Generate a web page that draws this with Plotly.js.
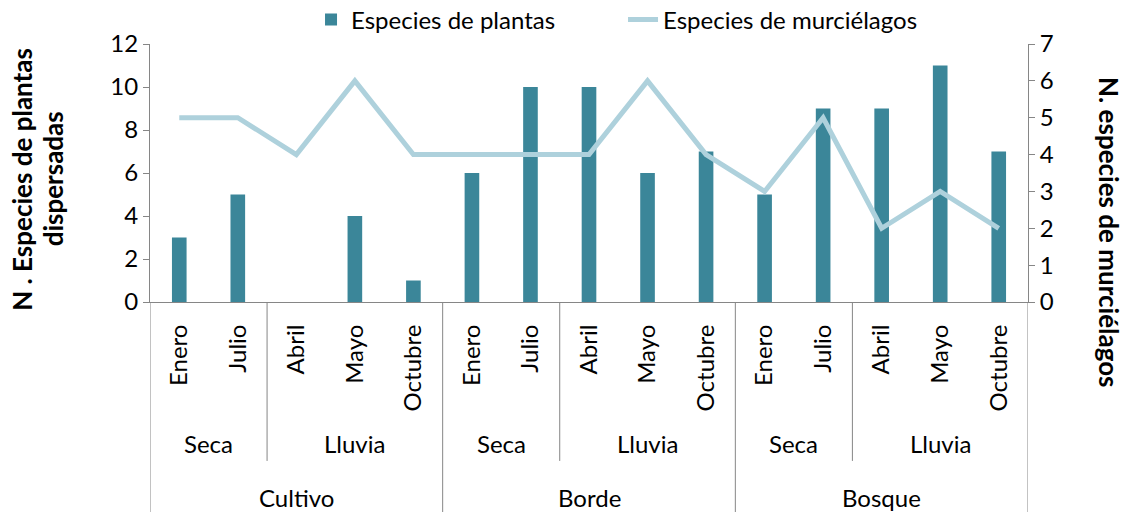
<!DOCTYPE html>
<html><head><meta charset="utf-8">
<script src="https://cdn.plot.ly/plotly-3.0.1.min.js"></script>
<style>body{margin:0;background:#fff}#chart{width:1132px;height:515px}</style>
</head><body><div id="chart"></div>
<script>
const months = ["Enero","Julio","Abril","Mayo","Octubre","Enero","Julio","Abril","Mayo","Octubre","Enero","Julio","Abril","Mayo","Octubre"];
const seasons = ["Seca","Seca","Lluvia","Lluvia","Lluvia","Seca","Seca","Lluvia","Lluvia","Lluvia","Seca","Seca","Lluvia","Lluvia","Lluvia"];
const sites = ["Cultivo","Cultivo","Cultivo","Cultivo","Cultivo","Borde","Borde","Borde","Borde","Borde","Bosque","Bosque","Bosque","Bosque","Bosque"];
const plantas = [3,5,0,4,1,6,10,10,6,7,5,9,9,11,7];
const murcielagos = [5,5,4,6,4,4,4,4,6,4,3,5,2,3,2];
const leftTicks = [0,2,4,6,8,10,12];
const rightTicks = [0,1,2,3,4,5,6,7];

const idx = months.map((m,i)=>i);
const FONT = "Lato, sans-serif";
const FS = 24;
const TFS = 26;
const AX = "#868686";

function spans(arr){
  const out=[]; let s=0;
  for(let i=1;i<=arr.length;i++){
    if(i===arr.length || arr[i]!==arr[i-1] || sites[i]!==sites[i-1]){
      out.push({label:arr[s], a:s, b:i-1}); s=i;
    }
  }
  return out;
}
const seasonSpans = spans(seasons);
const siteSpans = spans(sites);

const Y_SEASON_LINE = -0.616, Y_SITE_LINE = -0.814;
const shapes = [];
const annotations = [];
[-0.5, months.length-0.5].forEach(x=>shapes.push({type:'line',xref:'x',yref:'paper',x0:x,x1:x,y0:0,y1:Y_SITE_LINE,line:{color:AX,width:1}}));
seasonSpans.forEach(s=>{
  const xb = s.b+0.5;
  if (xb < months.length-0.5) {
    const isSite = sites[s.b]!==sites[s.b+1];
    shapes.push({type:'line',xref:'x',yref:'paper',x0:xb,x1:xb,y0:0,y1:isSite?Y_SITE_LINE:Y_SEASON_LINE,line:{color:AX,width:1}});
  }
  annotations.push({xref:'x',yref:'paper',x:(s.a+s.b)/2,y:-0.55,text:s.label,showarrow:false,font:{family:FONT,size:FS,color:'#000'},xanchor:'center',yanchor:'middle'});
});
siteSpans.forEach(s=>{
  annotations.push({xref:'x',yref:'paper',x:(s.a+s.b)/2,y:-0.756,text:s.label,showarrow:false,font:{family:FONT,size:FS,color:'#000'},xanchor:'center',yanchor:'middle'});
});
annotations.push({xref:'paper',yref:'paper',x:-0.146,y:0.477,text:'<b>N . Especies de plantas</b>',textangle:-90,showarrow:false,font:{family:FONT,size:TFS,color:'#000'},xanchor:'center',yanchor:'middle'});
annotations.push({xref:'paper',yref:'paper',x:-0.110,y:0.477,text:'<b>dispersadas</b>',textangle:-90,showarrow:false,font:{family:FONT,size:TFS,color:'#000'},xanchor:'center',yanchor:'middle'});
annotations.push({xref:'paper',yref:'paper',x:1.0923,y:0.271,text:'<b>N. especies de murciélagos</b>',textangle:90,showarrow:false,font:{family:FONT,size:TFS,color:'#000'},xanchor:'center',yanchor:'middle'});

const data = [
  {type:'bar',x:idx,y:plantas,name:'Especies de plantas',marker:{color:'#3b8699'},width:0.25,yaxis:'y'},
  {type:'scatter',mode:'lines',x:idx,y:murcielagos,name:'Especies de murciélagos',line:{color:'#aed1dc',width:5},yaxis:'y2'}
];

const layout = {
  width:1132,height:515,
  margin:{l:150,r:104,t:44,b:213,autoexpand:false},
  paper_bgcolor:'#fff',plot_bgcolor:'#fff',
  font:{family:FONT,size:FS,color:'#000'},
  showlegend:true,
  legend:{orientation:'h',x:0.1834,xanchor:'left',y:1.093,yanchor:'middle',font:{family:FONT,size:FS},bgcolor:'rgba(0,0,0,0)',entrywidth:267,entrywidthmode:'pixels',tracegroupgap:0},
  xaxis:{range:[-0.5,months.length-0.5],tickvals:idx,ticktext:months,tickangle:-90,ticks:'',showgrid:false,zeroline:false,showline:true,linecolor:AX,linewidth:1,tickfont:{family:FONT,size:FS,color:'#000'},ticklabelstandoff:12,fixedrange:true},
  yaxis:{range:[0,12],tickvals:leftTicks,showgrid:false,zeroline:false,showline:true,linecolor:AX,linewidth:1,ticks:'outside',ticklen:6,tickcolor:AX,tickfont:{family:FONT,size:FS,color:'#000'}},
  yaxis2:{range:[0,7],tickvals:rightTicks,overlaying:'y',side:'right',showgrid:false,zeroline:false,showline:true,linecolor:AX,linewidth:1,ticks:'outside',ticklen:6,tickcolor:AX,tickfont:{family:FONT,size:FS,color:'#000'}},
  shapes:shapes,
  annotations:annotations
};
Plotly.newPlot('chart',data,layout,{displayModeBar:false,staticPlot:true});
</script></body></html>
